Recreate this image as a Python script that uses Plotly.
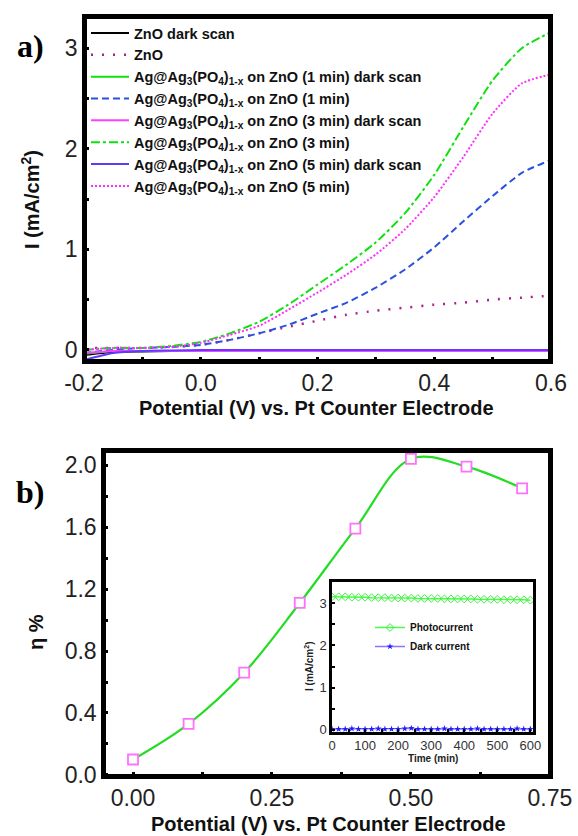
import plotly.graph_objects as go

# ---------------- Data ----------------
# Panel a: I-V curves
V = [-0.2, -0.15, -0.1, -0.05, 0.0, 0.05, 0.1, 0.15, 0.2, 0.25, 0.3, 0.35, 0.4, 0.45, 0.5, 0.55, 0.6]
zno_dark = [-0.05, -0.02, -0.015, -0.01, -0.01, -0.01, -0.01, -0.01, -0.01, -0.01, -0.01, -0.01, -0.01, -0.01, -0.01, -0.01, -0.01]
zno = [0.02, 0.02, 0.02, 0.03, 0.05, 0.10, 0.165, 0.23, 0.29, 0.35, 0.39, 0.42, 0.45, 0.47, 0.50, 0.52, 0.54]
ag1_dark = [-0.04, -0.01, -0.01, -0.01, -0.01, -0.01, -0.01, -0.01, -0.01, -0.01, -0.01, -0.01, -0.01, -0.01, -0.01, -0.01, -0.01]
ag1 = [-0.03, 0.0, 0.02, 0.03, 0.05, 0.10, 0.165, 0.25, 0.36, 0.47, 0.62, 0.80, 1.02, 1.28, 1.53, 1.76, 1.89]
ag3_dark = [-0.03, -0.01, -0.01, -0.01, -0.01, -0.01, -0.01, -0.01, -0.01, -0.01, -0.01, -0.01, -0.01, -0.01, -0.01, -0.01, -0.01]
ag3 = [0.0, 0.02, 0.02, 0.04, 0.08, 0.165, 0.28, 0.45, 0.65, 0.85, 1.07, 1.36, 1.74, 2.22, 2.68, 3.00, 3.16]
ag5_dark = [-0.1, -0.03, -0.01, -0.005, 0.0, 0.0, 0.0, 0.0, 0.0, 0.0, 0.0, 0.0, 0.0, 0.0, 0.0, 0.0, 0.0]
ag5 = [0.0, 0.02, 0.02, 0.03, 0.07, 0.15, 0.24, 0.40, 0.57, 0.75, 0.95, 1.20, 1.52, 1.92, 2.35, 2.65, 2.74]

# Panel b: efficiency
Vb = [0.0, 0.1, 0.2, 0.3, 0.4, 0.5, 0.6, 0.7]
eta = [0.10, 0.33, 0.66, 1.11, 1.59, 2.04, 1.99, 1.85]

# Inset: stability
t_min = [0, 20, 40, 60, 80, 100, 120, 140, 160, 180, 200, 220, 240, 260, 280, 300,
         320, 340, 360, 380, 400, 420, 440, 460, 480, 500, 520, 540, 560, 580, 600]
photo = [3.15, 3.15, 3.15, 3.14, 3.14, 3.14, 3.13, 3.13, 3.13, 3.12, 3.12, 3.12, 3.12, 3.11, 3.11, 3.11,
         3.11, 3.10, 3.10, 3.10, 3.10, 3.10, 3.09, 3.09, 3.09, 3.09, 3.08, 3.08, 3.08, 3.08, 3.07]
dark = [0.02, 0.02, 0.02, 0.03, 0.02, 0.02, 0.02, 0.03, 0.02, 0.02, 0.02, 0.03, 0.04, 0.02, 0.02, 0.02,
        0.02, 0.03, 0.02, 0.02, 0.02, 0.02, 0.03, 0.02, 0.02, 0.02, 0.02, 0.02, 0.03, 0.02, 0.02]

# Tick positions (labelled and unlabelled) and labels
xa_ticks = [-0.2, -0.1, 0.0, 0.1, 0.2, 0.3, 0.4, 0.5, 0.6]
xa_text = ["-0.2", "", "0.0", "", "0.2", "", "0.4", "", "0.6"]
ya_ticks = [0, 0.5, 1, 1.5, 2, 2.5, 3]
ya_text = ["0", "", "1", "", "2", "", "3"]
xb_ticks = [0, 0.125, 0.25, 0.375, 0.5, 0.625, 0.75]
xb_text = ["0.00", "", "0.25", "", "0.50", "", "0.75"]
yb_ticks = [0, 0.2, 0.4, 0.6, 0.8, 1.0, 1.2, 1.4, 1.6, 1.8, 2.0]
yb_text = ["0.0", "", "0.4", "", "0.8", "", "1.2", "", "1.6", "", "2.0"]
xi_ticks = [0, 50, 100, 150, 200, 250, 300, 350, 400, 450, 500, 550, 600]
xi_text = ["0", "", "100", "", "200", "", "300", "", "400", "", "500", "", "600"]
yi_ticks = [0, 0.5, 1, 1.5, 2, 2.5, 3]
yi_text = ["0", "", "1", "", "2", "", "3"]

AG = "Ag@Ag<sub>3</sub>(PO<sub>4</sub>)<sub>1-x</sub> on ZnO"
names_a = ["ZnO dark scan", "ZnO",
           AG + " (1 min) dark scan", AG + " (1 min)",
           AG + " (3 min) dark scan", AG + " (3 min)",
           AG + " (5 min) dark scan", AG + " (5 min)"]

# ---------------- Figure ----------------
W, H = 578, 836
FONT = "Liberation Sans, Arial, sans-serif"

def px_x(p):
    return p / W

def px_y(p):
    return 1 - p / H

fig = go.Figure()

series_a = [
    (zno_dark, "#000000", "solid", 2),
    (zno, "#b0208c", "2px,9px", 2.5),
    (ag1_dark, "#10e010", "solid", 2),
    (ag1, "#2a50e0", "7px,4px", 2),
    (ag3_dark, "#ff40ff", "solid", 2),
    (ag3, "#10e010", "dashdot", 2),
    (ag5_dark, "#5a3cff", "solid", 2),
    (ag5, "#ff30ff", "2px,2px", 2),
]
for i, ((ys, col, dash, lw), nm) in enumerate(zip(series_a, names_a)):
    fig.add_trace(go.Scatter(x=V, y=ys, mode="lines", name=nm, legendgroup="g%d" % i,
                             line=dict(color=col, dash=dash, width=lw, shape="spline", smoothing=0.6),
                             xaxis="x", yaxis="y", legend="legend"))

fig.add_trace(go.Scatter(x=Vb, y=eta, mode="lines", showlegend=False,
                         line=dict(color="#22dd22", width=2.2, shape="spline", smoothing=1.0),
                         xaxis="x2", yaxis="y2"))
fig.add_trace(go.Scatter(x=Vb, y=eta, mode="markers", showlegend=False,
                         marker=dict(symbol="square", size=10, color="white",
                                     line=dict(color="#ff70ff", width=1.8)),
                         xaxis="x2", yaxis="y2"))

fig.add_trace(go.Scatter(x=t_min, y=photo, mode="lines+markers", name="Photocurrent",
                         line=dict(color="#44ff44", width=1.5),
                         marker=dict(symbol="diamond-open", size=6, color="#44ee44", line=dict(width=1)),
                         xaxis="x3", yaxis="y3", legend="legend2"))
fig.add_trace(go.Scatter(x=t_min, y=dark, mode="lines+markers", name="Dark current",
                         line=dict(color="#9070ff", width=1.5),
                         marker=dict(symbol="star", size=5, color="#2020ff"),
                         xaxis="x3", yaxis="y3", legend="legend2"))

def ax(**kw):
    d = dict(showline=True, linecolor="black", mirror=True, ticks="inside",
             showgrid=False, zeroline=False, tickcolor="black", automargin=False,
             tickmode="array", tickfont=dict(family=FONT, size=23, color="#222"))
    d.update(kw)
    return d

fig.update_layout(
    template="none",
    width=W, height=H, autosize=False,
    margin=dict(l=0, r=0, t=0, b=0, pad=0, autoexpand=False),
    paper_bgcolor="white", plot_bgcolor="white",
    xaxis=ax(domain=[px_x(84), px_x(551)], range=[-0.2, 0.6],
             tickvals=xa_ticks, ticktext=xa_text,
             linewidth=1.5, ticklen=5, tickwidth=3, anchor="y"),
    yaxis=ax(domain=[px_y(362), px_y(16)], range=[-0.12, 3.32],
             tickvals=ya_ticks, ticktext=ya_text, linewidth=1.5, ticklen=5, tickwidth=3, anchor="x"),
    xaxis2=ax(domain=[px_x(103), px_x(551)], range=[-0.054, 0.752],
              tickvals=xb_ticks, ticktext=xb_text,
              linewidth=1.5, ticklen=5, tickwidth=3, anchor="y2"),
    yaxis2=ax(domain=[px_y(777), px_y(450)], range=[-0.013, 2.097],
              tickvals=yb_ticks, ticktext=yb_text,
              linewidth=1.5, ticklen=5, tickwidth=3, anchor="x2"),
    xaxis3=ax(domain=[px_x(332), px_x(533)], range=[0, 608],
              tickvals=xi_ticks, ticktext=xi_text, linewidth=2.5, ticklen=3, tickwidth=2,
              tickfont=dict(family=FONT, size=13, color="#333"), anchor="y3"),
    yaxis3=ax(domain=[px_y(732), px_y(582)], range=[-0.05, 3.5],
              tickvals=yi_ticks, ticktext=yi_text, linewidth=2.5, ticklen=3, tickwidth=2,
              tickfont=dict(family=FONT, size=13, color="#333"), anchor="x3"),
    legend=dict(x=px_x(86), y=px_y(17), xanchor="left", yanchor="top",
                bgcolor="rgba(0,0,0,0)", borderwidth=0, itemwidth=38, tracegroupgap=2,
                traceorder="normal",
                font=dict(family=FONT, size=14.5, color="#111", weight="bold")),
    legend2=dict(x=px_x(370), y=px_y(613), xanchor="left", yanchor="top",
                 bgcolor="rgba(0,0,0,0)", borderwidth=0, itemwidth=30, tracegroupgap=0,
                 font=dict(family=FONT, size=10, color="#111", weight="bold")),
)

# Frames of the two main panels, drawn just inside the plotting area
for (l, r, t, b) in ((84, 551, 16, 362), (103, 551, 450, 777)):
    fig.add_shape(type="rect", xref="paper", yref="paper",
                  x0=px_x(l + 1.5), x1=px_x(r - 1.5), y0=px_y(b - 1.5), y1=px_y(t + 1.5),
                  line=dict(color="black", width=3), fillcolor="rgba(0,0,0,0)", layer="above")

annotations = [
    dict(text="<b>a)</b>", x=px_x(30), y=px_y(46), font=dict(family="Liberation Serif, Times New Roman, serif", size=32, color="black")),
    dict(text="<b>b)</b>", x=px_x(30), y=px_y(492), font=dict(family="Liberation Serif, Times New Roman, serif", size=32, color="black")),
    dict(text="<b>Potential (V) vs. Pt Counter Electrode</b>", x=px_x(316), y=px_y(408),
         font=dict(family=FONT, size=20, color="#111")),
    dict(text="<b>I (mA/cm<sup>2</sup>)</b>", x=px_x(30), y=px_y(200), textangle=-90,
         font=dict(family=FONT, size=20, color="#111")),
    dict(text="<b>Potential (V) vs. Pt Counter Electrode</b>", x=px_x(328), y=px_y(824),
         font=dict(family=FONT, size=20, color="#111")),
    dict(text="<b>η %</b>", x=px_x(36), y=px_y(632), textangle=-90,
         font=dict(family=FONT, size=20, color="#111")),
    dict(text="<b>Time (min)</b>", x=px_x(433), y=px_y(758),
         font=dict(family=FONT, size=10, color="#222")),
    dict(text="<b>I (mA/cm<sup>2</sup>)</b>", x=px_x(309), y=px_y(667), textangle=-90,
         font=dict(family=FONT, size=10, color="#222")),
]
for a in annotations:
    a.update(xref="paper", yref="paper", showarrow=False, xanchor="center", yanchor="middle")
fig.update_layout(annotations=annotations)

fig.write_html("out.html")
